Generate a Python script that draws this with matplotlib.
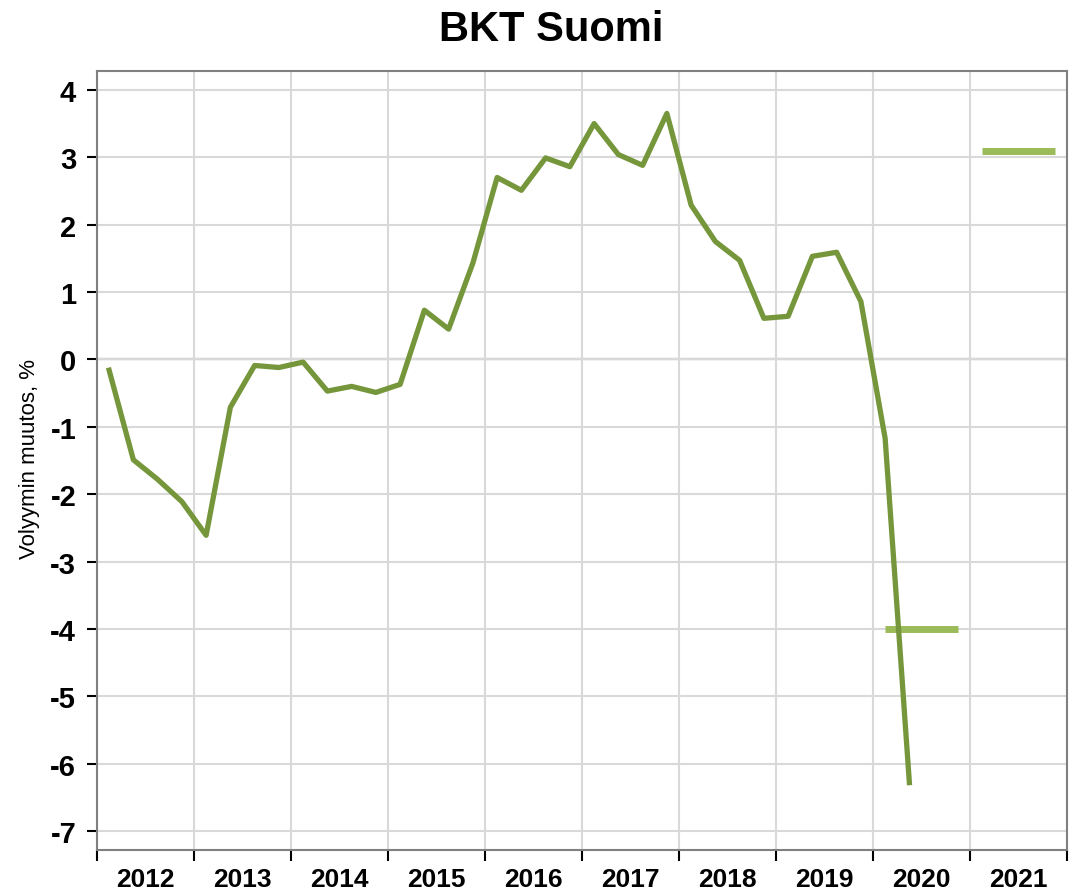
import numpy as np
import matplotlib
matplotlib.use("Agg")
import matplotlib.pyplot as plt
from matplotlib.ticker import FixedLocator, NullFormatter

plt.rcParams['font.family'] = ['Liberation Sans', 'DejaVu Sans']
plt.rcParams['axes.unicode_minus'] = False

# quarterly volume change of GDP, 2012Q1 .. 2020Q2
quarters = ['2012Q1', '2012Q2', '2012Q3', '2012Q4',
            '2013Q1', '2013Q2', '2013Q3', '2013Q4',
            '2014Q1', '2014Q2', '2014Q3', '2014Q4',
            '2015Q1', '2015Q2', '2015Q3', '2015Q4',
            '2016Q1', '2016Q2', '2016Q3', '2016Q4',
            '2017Q1', '2017Q2', '2017Q3', '2017Q4',
            '2018Q1', '2018Q2', '2018Q3', '2018Q4',
            '2019Q1', '2019Q2', '2019Q3', '2019Q4',
            '2020Q1', '2020Q2']
gdp_change = [-0.16, -1.49, -1.78, -2.11,
              -2.61, -0.71, -0.09, -0.12,
              -0.04, -0.47, -0.40, -0.49,
              -0.37, 0.73, 0.45, 1.43,
              2.70, 2.51, 2.99, 2.86,
              3.50, 3.04, 2.88, 3.65,
              2.29, 1.75, 1.47, 0.61,
              0.64, 1.53, 1.59, 0.86,
              -1.17, -6.28]

# annual forecasts
forecast_years = [2020, 2021]
forecast_values = [-4.0, 3.1]

year_labels = [str(y) for y in range(2012, 2022)]

x = np.array([int(q[:4]) + (int(q[-1]) - 0.5) / 4 for q in quarters])

fig = plt.figure(figsize=(10.78, 8.95), dpi=100)
ax = fig.add_axes([97 / 1078, 1 - 851 / 895, 970 / 1078, 779 / 895])

ax.set_xlim(2012, 2022)
ax.set_ylim(-7.28, 4.28)

ax.grid(True, color='#d9d9d9', linewidth=1.5, zorder=0)
ax.axhline(0, color='black', linewidth=1.5, zorder=1)

ax.plot(x, gdp_change, color='#76963c', linewidth=3.8, zorder=3)
for yr, val in zip(forecast_years, forecast_values):
    ax.hlines(val, yr + 0.125, yr + 0.875, color='#9bbb59', linewidth=5, zorder=2)

# x axis: boundaries as major ticks, labels centered on years
ax.xaxis.set_major_locator(FixedLocator(range(2012, 2023)))
ax.xaxis.set_major_formatter(NullFormatter())
ax.xaxis.set_minor_locator(FixedLocator([y + 0.5 for y in range(2012, 2022)]))
ax.set_xticklabels(year_labels, minor=True)
ax.tick_params(axis='x', which='major', direction='out', length=8, width=1.5, color='black')
ax.tick_params(axis='x', which='minor', length=0, pad=12, labelsize=19)

ax.set_yticks(range(-7, 5))
ax.tick_params(axis='y', direction='out', length=7, width=1.5, color='black',
               pad=8, labelsize=21)
for lbl in ax.get_xticklabels(minor=True) + ax.get_yticklabels():
    lbl.set_fontweight('bold')

for s in ax.spines.values():
    s.set_color('#808080')
    s.set_linewidth(1.5)

fig.text(30 / 1078, 1 - 459 / 895, 'Volyymin muutos, %', rotation=90,
         ha='center', va='center', fontsize=16)
fig.text(551 / 1078, 1 - 30 / 895, 'BKT Suomi', ha='center', va='center',
         fontsize=30, fontweight='bold')

fig.savefig('out.png', dpi=100)
